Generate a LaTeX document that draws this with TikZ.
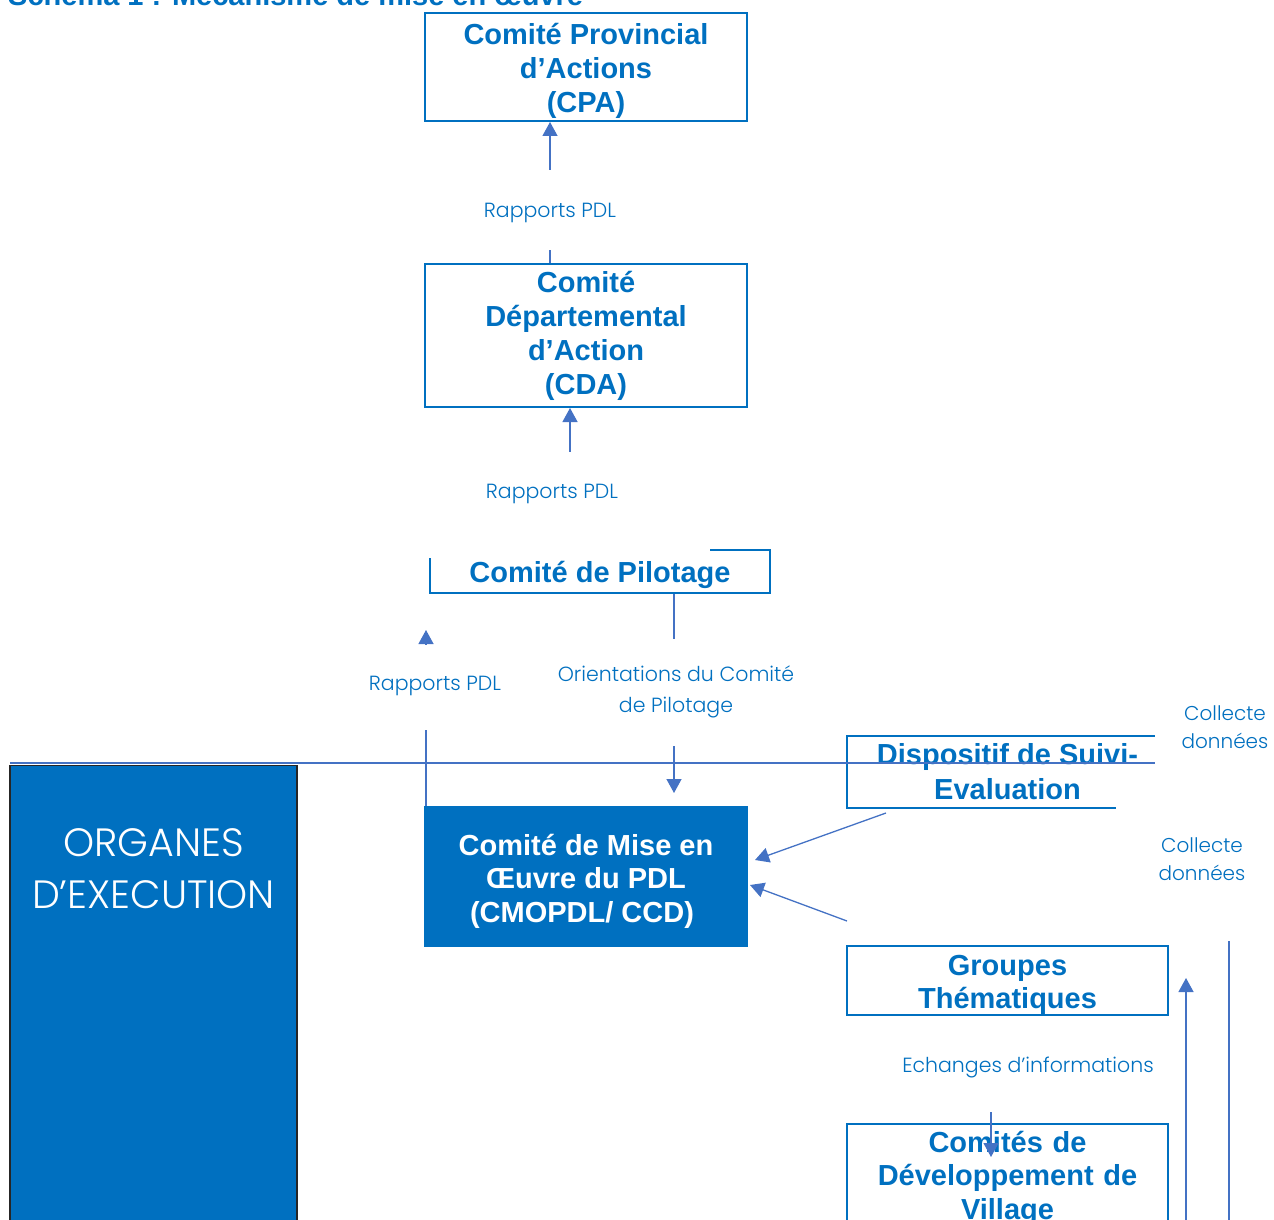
\documentclass[tikz,border=0pt]{standalone}
\usepackage{fontspec}
\setmainfont{Liberation Sans}
\newfontfamily\gothic{Poppins Light}
\usetikzlibrary{arrows.meta}
\definecolor{tblue}{HTML}{0070C0}
\definecolor{lblue}{HTML}{4472C4}
\newcommand{\toppad}{\rule{0pt}{30pt}}
\begin{document}
\begin{tikzpicture}[x=1pt,y=-1pt,
  box/.style={draw=tblue, line width=2pt, inner sep=0pt, align=center, text=tblue,
    font=\bfseries\fontsize{29}{34}\selectfont},
  fullbox/.style={box, fill=tblue, text=white},
  lab/.style={fill=white, text=tblue, inner sep=0pt, align=center,
    font=\gothic\fontsize{20.5}{31}\selectfont},
  conn/.style={draw=lblue, line width=1.3pt},
  arr/.style={conn, -{Triangle[length=14pt,width=15pt]}},
  thick line/.style={draw=lblue, line width=2.4pt}]
\useasboundingbox (0,0) rectangle (1274,1220);
\clip (0,0) rectangle (1274,1220);
% title (cut by the page top)
\node[anchor=base west, inner sep=0pt, text=tblue, font=\bfseries\fontsize{29}{34}\selectfont]
  (title) at (8,5.5) {Schéma 1 : Mécanisme de mise en œuvre};
% boxes
\node[box, minimum width=322pt, minimum height=108pt] (cpa) at (586,67)
  {\toppad Comité Provincial\\d’Actions\\(CPA)};
\node[box, minimum width=322pt, minimum height=143pt] (cda) at (586,335.5)
  {Comité\\Départemental\\d’Action\\(CDA)};
\node[box, anchor=base, minimum width=340pt, text height=32.5pt, text depth=10.5pt] (pil) at (600,582.5)
  {Comité de Pilotage};
\node[fullbox, minimum width=322pt, minimum height=139pt, font=\bfseries\fontsize{29}{33.5}\selectfont] (cmo) at (586,876.5)
  {\toppad Comité de Mise en\\Œuvre du PDL\\(CMOPDL/ CCD)\hspace*{8pt}};
\node[box, minimum width=321pt, minimum height=72pt, font=\bfseries\fontsize{29}{35}\selectfont] (dse) at (1007.5,772)
  {Dispositif de Suivi-\\Evaluation};
\node[box, minimum width=321pt, minimum height=68pt, font=\bfseries\fontsize{29}{33}\selectfont] (grp) at (1007.5,980)
  {\toppad Groupes\\Thématiques};
\node[box, anchor=north, text width=321pt, inner ysep=7pt, font=\bfseries\fontsize{29}{33.5}\selectfont] (cdv) at (1007.5,1123)
  {Comités de\\Développement de\\Village\rule[-150pt]{0pt}{150pt}};
\node[anchor=north, fill=tblue, draw=black!85, line width=1.3pt, text=white, align=center,
  text width=287pt, inner xsep=0pt, inner ysep=63pt, font=\gothic\fontsize{39.5}{52}\selectfont]
  (org) at (153.5,765) {ORGANES\\D’EXECUTION\rule[-400pt]{0pt}{400pt}};
% helper coordinates
\coordinate (xa) at (550,0);
\coordinate (xb) at (570,0);
\coordinate (xc) at (674,0);
\coordinate (xd) at (426,0);
\coordinate (xe) at (991,0);
\coordinate (ortip) at (674,793);
\coordinate (rptip) at (426,630);
\coordinate (d1s) at (886,813);
\coordinate (d1t) at (755,860);
\coordinate (g1s) at (847,921);
\coordinate (g1t) at (750,885);
\coordinate (edtip) at (991,1157);
\coordinate (v1b) at (1186,1235);
\coordinate (v1t) at (1186,978);
\coordinate (v2b) at (1229,1235);
\coordinate (v2t) at (1229,800);
\coordinate (hl1) at (10,763);
\coordinate (hl2) at (1175,763);
% connectors
\draw[arr] (cda.north -| xa) -- (cpa.south -| xa);
\draw[arr] (pil.north -| xb) -- (cda.south -| xb);
\draw[arr] (pil.south -| xc) -- (ortip);
\draw[arr] (cmo.north -| xd) -- (rptip);
\draw[arr] (d1s) -- (d1t);
\draw[arr] (g1s) -- (g1t);
\draw[arr] (grp.south -| xe) -- (edtip);
\draw[arr] (v1b) -- (v1t);
\draw[thick line] (v2b) -- (v2t);
\draw[thick line] (hl1) -- (hl2);
% labels (white text boxes)
\node[lab, anchor=base, text height=47pt, text depth=33pt, minimum width=170pt] (l1) at (550,217) {Rapports PDL};
\node[lab, anchor=base, text height=46pt, text depth=60pt, minimum width=316pt] (l2) at (552,498) {Rapports PDL};
\node[lab, anchor=base, text height=45pt, text depth=40pt, minimum width=170pt] (l3) at (435,690) {Rapports PDL};
\node[lab, minimum width=260pt, minimum height=107pt] (lor) at (676,692) {Orientations du Comité\\de Pilotage};
\node[lab, minimum width=140pt, minimum height=100pt, font=\gothic\fontsize{20}{28}\selectfont] (c1) at (1225,727) {Collecte\\données};
\node[lab, minimum width=172pt, minimum height=164pt, font=\gothic\fontsize{20}{28}\selectfont] (c2) at (1202,859) {Collecte\\données};
\node[lab, anchor=base, text height=56pt, text depth=40pt, minimum width=275pt] (lec) at (1028,1072) {Echanges d’informations};
\end{tikzpicture}
\end{document}
